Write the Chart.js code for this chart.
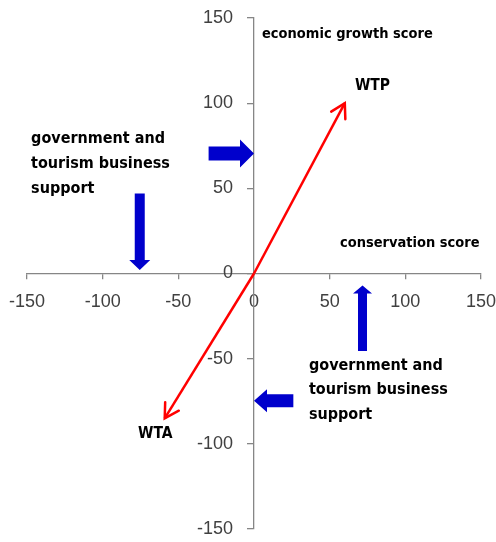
<!DOCTYPE html>
<html><head><meta charset="utf-8">
<script src="https://cdn.jsdelivr.net/npm/chart.js@4.4.1/dist/chart.umd.min.js"></script>
<style>html,body{margin:0;padding:0;background:#fff;} #wrap{width:496px;height:542px;}</style>
</head><body><div id="wrap"><canvas id="c" width="496" height="542"></canvas></div>
<script>
// ---- data ----
const axisTicks = [-150, -100, -50, 0, 50, 100, 150];
const vectorLabels = ['WTP', 'WTA'];
const vectorX = [60, -59];
const vectorY = [100, -85];
// block arrows: "government and tourism business support"
const blockTailX = [-30, -75.5, 71.7, 26];
const blockTailY = [70.5, 47, -45.5, -74.7];
const blockTipX = [0, -75.5, 71.7, 0];
const blockTipY = [70.5, 2, -7, -74.7];
const axisTitles = ['economic growth score', 'conservation score'];
const supportText = ['government and', 'tourism business', 'support'];

// ---- styles / placement ----
const blockStyle = { shaft: [14, 10, 9, 13], headW: [28, 21, 19, 23], headL: [14, 10, 8, 13], color: '#0000CC' };
const labelFont = "'DejaVu Sans Condensed', 'DejaVu Sans', sans-serif";
const textItems = [
  { text: [axisTitles[0]], x: 5.3, y: 140.6, size: 14.5 },
  { text: [axisTitles[1]], x: 56.8, y: 17.6, size: 14.5 },
  { text: [vectorLabels[0]], x: 66.7, y: 110, size: 15.5 },
  { text: [vectorLabels[1]], x: -76.6, y: -94, size: 15.5 },
  { text: supportText, x: -147.3, y: 78.8, size: 16, lh: 24.8 },
  { text: supportText, x: 36.3, y: -54, size: 16, lh: 24.8 }
];

const overlay = {
  id: 'overlay',
  afterDraw(chart) {
    const ctx = chart.ctx, xs = chart.scales.x, ys = chart.scales.y;
    const X = v => xs.getPixelForValue(v), Y = v => ys.getPixelForValue(v);
    ctx.save();
    // red arrowheads
    ctx.strokeStyle = '#FF0000'; ctx.lineWidth = 2.5; ctx.lineCap = 'round';
    for (let i = 0; i < vectorX.length; i++) {
      const x0 = X(0), y0 = Y(0), x1 = X(vectorX[i]), y1 = Y(vectorY[i]);
      const a = Math.atan2(y1 - y0, x1 - x0), L = 16, w = Math.PI / 6;
      ctx.beginPath();
      ctx.moveTo(x1 - L * Math.cos(a - w), y1 - L * Math.sin(a - w));
      ctx.lineTo(x1, y1);
      ctx.lineTo(x1 - L * Math.cos(a + w), y1 - L * Math.sin(a + w));
      ctx.stroke();
    }
    // blue block arrows
    ctx.fillStyle = blockStyle.color;
    for (let i = 0; i < blockTailX.length; i++) {
      const tx = X(blockTailX[i]), ty = Y(blockTailY[i]), hx = X(blockTipX[i]), hy = Y(blockTipY[i]);
      const len = Math.hypot(hx - tx, hy - ty), a = Math.atan2(hy - ty, hx - tx);
      const s = blockStyle.shaft[i] / 2, hw = blockStyle.headW[i] / 2, hl = blockStyle.headL[i];
      ctx.save(); ctx.translate(tx, ty); ctx.rotate(a);
      ctx.beginPath();
      ctx.moveTo(0, -s); ctx.lineTo(len - hl, -s); ctx.lineTo(len - hl, -hw); ctx.lineTo(len, 0);
      ctx.lineTo(len - hl, hw); ctx.lineTo(len - hl, s); ctx.lineTo(0, s); ctx.closePath();
      ctx.fill();
      ctx.restore();
    }
    // texts
    ctx.fillStyle = '#000'; ctx.textAlign = 'left'; ctx.textBaseline = 'middle';
    textItems.forEach(t => {
      ctx.font = 'bold ' + t.size + 'px ' + labelFont;
      t.text.forEach((line, k) => ctx.fillText(line, X(t.x), Y(t.y) + k * (t.lh || 0)));
    });
    ctx.restore();
  }
};

const datasets = vectorX.map((vx, i) => ({
  label: vectorLabels[i],
  data: [{ x: 0, y: 0 }, { x: vx, y: vectorY[i] }],
  showLine: true, borderColor: '#FF0000', borderWidth: 2.5, pointRadius: 0, clip: false
}));

const tickFont = { family: "'Liberation Sans', Arial, sans-serif", size: 18 };
const zeroPad = s => { s.paddingLeft = 0; s.paddingRight = 0; s.paddingTop = 0; s.paddingBottom = 0; };
const axisCommon = {
  type: 'linear', min: axisTicks[0], max: axisTicks[axisTicks.length - 1],
  position: 'center',
  afterBuildTicks: s => { s.ticks = axisTicks.map(v => ({ value: v })); },
  afterFit: zeroPad,
  border: { display: true, color: '#868686', width: 1.3 }
};

new Chart(document.getElementById('c'), {
  type: 'scatter',
  data: { datasets },
  plugins: [overlay],
  options: {
    responsive: false, animation: false,
    layout: { padding: { left: 27, right: 15, top: 18, bottom: 13 } },
    plugins: { legend: { display: false }, tooltip: { enabled: false } },
    scales: {
      x: Object.assign({}, axisCommon, {
        grid: { drawOnChartArea: false, color: '#868686', lineWidth: 1.3, tickLength: 18, tickBorderDash: [5, 100] },
        ticks: { font: tickFont, color: '#404040', padding: 0, maxRotation: 0, autoSkip: false }
      }),
      y: Object.assign({}, axisCommon, {
        grid: { drawOnChartArea: false, color: '#868686', lineWidth: 1.3, tickLength: 21, tickBorderDash: [6, 100] },
        ticks: { font: tickFont, color: '#404040', padding: 0, autoSkip: false }
      })
    }
  }
});
</script></body></html>
